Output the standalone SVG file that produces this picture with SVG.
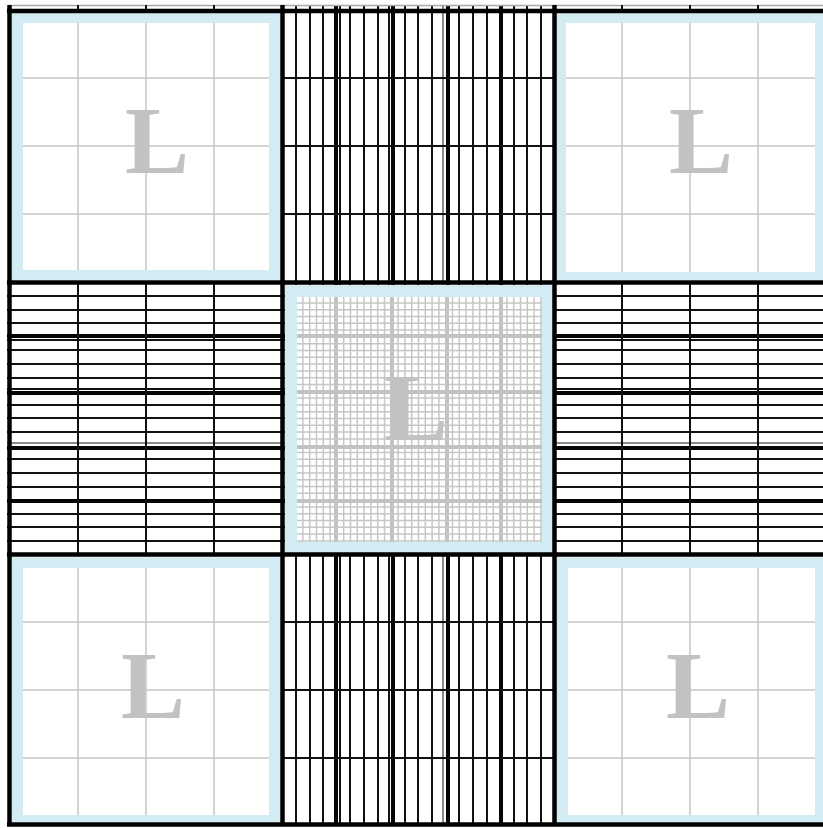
<svg xmlns="http://www.w3.org/2000/svg" width="823" height="828" viewBox="0 0 823 828">
<style>
.bk{stroke:#111;fill:none;stroke-width:2}
.tk{stroke:#050505;fill:none;stroke-width:4}
.fr{stroke:#000;fill:none;stroke-width:4.5}
.gl{stroke:#c6c6c6;fill:none;stroke-width:1.5}
.gt{stroke:#c2c2c2;fill:none;stroke-width:4}
.blue{fill:#d3ebf2}
.wh{fill:#fff}
.L{font-family:"Liberation Serif","Times New Roman",serif;font-weight:bold;font-size:96px;fill:#c2c2c2}
</style>
<defs>
<g id="vs">
<path class="bk" d="M296 0V280M310 0V280M323 0V280M340 0V280M350 0V280M364 0V280M378 0V280M389 0V280M405 0V280M418 0V280M432 0V280M459 0V280M473 0V280M487 0V280M514 0V280M527 0V280M541 0V280"/>
<path d="M443 0V280" stroke="#8a8a8a" stroke-width="2" fill="none"/>
<path class="tk" d="M336 0V280M393 0V280M448 0V280M501 0V280"/>
</g>
<g id="cg">
<path class="gl" d="M302.9 297V542M309.7 297V542M316.5 297V542M323.3 297V542M330.1 297V542M343.7 297V542M350.5 297V542M357.3 297V542M364.1 297V542M370.9 297V542M377.7 297V542M384.5 297V542M398.1 297V542M404.9 297V542M411.7 297V542M418.5 297V542M425.3 297V542M432.1 297V542M438.9 297V542M452.5 297V542M459.3 297V542M466.1 297V542M472.9 297V542M479.7 297V542M486.5 297V542M493.3 297V542M506.9 297V542M513.7 297V542M520.5 297V542M527.3 297V542M534.1 297V542M540.9 297V542"/>
<path class="gt" d="M336 297V542M392 297V542M447 297V542M501 297V542"/>
</g>
</defs>
<rect width="823" height="828" fill="#fff"/>
<g id="strips">
<use href="#vs" transform="translate(0,5)"/>
<use href="#vs" transform="translate(0,545)"/>
<use href="#vs" transform="matrix(0 1 1 0 7 0)"/>
<use href="#vs" transform="matrix(0 1 1 0 550 0)"/>
<path class="bk" d="M282 78H555M282 146H555M282 214H555M282 622H555M282 690H555M282 758H555M78 282V555M146 282V555M214 282V555M622 282V555M690 282V555M758 282V555"/>
<path d="M8 5.5H823" stroke="#a8a8a8" stroke-width="1.5" fill="none"/>
<path class="bk" d="M78 5V11M146 5V11M214 5V11M622 5V11M690 5V11M758 5V11"/>
</g>
<g id="square-tl">
<rect class="blue" x="12" y="12" width="268" height="268"/>
<rect class="wh" x="23" y="23" width="246" height="247"/>
<path class="gl" d="M78 23V270M146 23V270M214 23V270M23 78H269M23 146H269M23 214H269"/>
<text class="L" x="125" y="173">L</text>
</g>
<g id="square-tr">
<rect class="blue" x="556" y="12" width="268" height="268"/>
<rect class="wh" x="566" y="23" width="249" height="249"/>
<path class="gl" d="M622 23V272M690 23V272M758 23V272M566 78H815M566 146H815M566 214H815"/>
<text class="L" x="669" y="173">L</text>
</g>
<g id="square-bl">
<rect class="blue" x="12" y="557" width="268" height="265"/>
<rect class="wh" x="23" y="568" width="246" height="247"/>
<path class="gl" d="M78 568V815M146 568V815M214 568V815M23 622H269M23 690H269M23 758H269"/>
<text class="L" x="121" y="718">L</text>
</g>
<g id="square-br">
<rect class="blue" x="556" y="557" width="268" height="265"/>
<rect class="wh" x="568" y="568" width="247" height="247"/>
<path class="gl" d="M622 568V815M690 568V815M758 568V815M568 622H815M568 690H815M568 758H815"/>
<text class="L" x="666" y="718">L</text>
</g>
<g id="square-center">
<rect class="blue" x="285" y="285" width="270" height="270"/>
<rect class="wh" x="297" y="297" width="245" height="245"/>
<use href="#cg"/>
<use href="#cg" transform="matrix(0 1 1 0 0 0)"/>
<text class="L" x="384" y="440">L</text>
</g>
<g id="frame">
<path class="fr" d="M9.5 5V826" stroke-width="5"/>
<path class="fr" d="M282.5 5V826M554.5 5V826M7 282.5H823M7 554.5H823"/>
<path class="fr" d="M7 11H823" stroke-width="3"/>
<path class="fr" d="M7 824.5H823" stroke-width="3.5"/>
</g>
</svg>
